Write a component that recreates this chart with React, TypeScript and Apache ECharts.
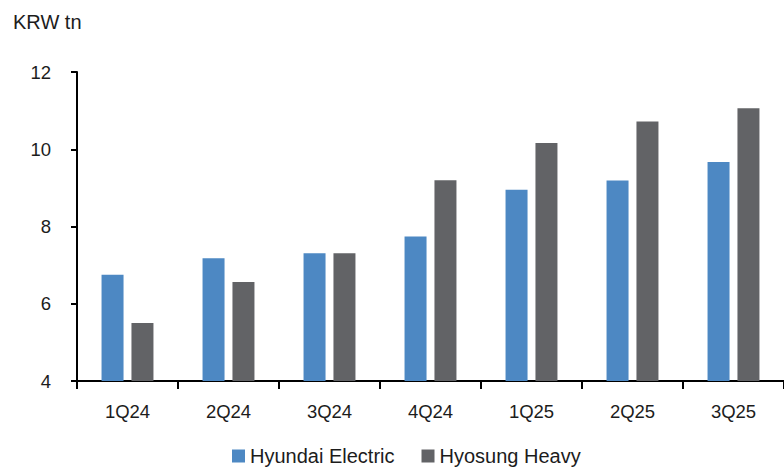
import React, { useEffect, useRef } from "react";
import * as echarts from "echarts";

const categories = ["1Q24", "2Q24", "3Q24", "4Q24", "1Q25", "2Q25", "3Q25"];
const hyundaiElectric = [6.75, 7.18, 7.31, 7.74, 8.95, 9.19, 9.67];
const hyosungHeavy = [5.5, 6.56, 7.31, 9.2, 10.16, 10.72, 11.06];
const unitLabel = "KRW tn";

const FONT = "'Liberation Sans', Arial, sans-serif";
const TEXT = "#1c1c1c";

export default function App() {
  const ref = useRef<HTMLDivElement>(null);
  useEffect(() => {
    if (!ref.current) return;
    const chart = echarts.init(ref.current, null, { renderer: "svg" });
    chart.setOption({
      animation: false,
      backgroundColor: "#ffffff",
      graphic: [
        {
          type: "text",
          left: 13,
          top: 12,
          style: { text: unitLabel, font: `20px ${FONT}`, fill: TEXT },
        },
      ],
      legend: {
        left: 232,
        top: 446,
        padding: 0,
        itemWidth: 13,
        itemHeight: 13,
        itemGap: 27,
        icon: "rect",
        textStyle: { fontFamily: FONT, fontSize: 20, color: TEXT },
        data: ["Hyundai Electric", "Hyosung Heavy"],
      },
      grid: { left: 77, top: 72, width: 710, height: 309, containLabel: false },
      xAxis: {
        type: "category",
        data: categories,
        axisLine: { lineStyle: { color: "#000", width: 2 } },
        axisTick: { show: true, length: 8, lineStyle: { color: "#000", width: 2 }, alignWithLabel: false },
        axisLabel: { fontFamily: FONT, fontSize: 18.5, color: TEXT, margin: 21 },
      },
      yAxis: {
        type: "value",
        min: 4,
        max: 12,
        interval: 2,
        splitLine: { show: false },
        axisLine: { show: true, lineStyle: { color: "#000", width: 2 } },
        axisTick: { show: true, length: 6, lineStyle: { color: "#000", width: 2 } },
        axisLabel: { fontFamily: FONT, fontSize: 18.5, color: TEXT, margin: 26 },
      },
      series: [
        {
          name: "Hyundai Electric",
          type: "bar",
          data: hyundaiElectric,
          barWidth: 22,
          barGap: "36%",
          itemStyle: { color: "#4d88c3" },
        },
        {
          name: "Hyosung Heavy",
          type: "bar",
          data: hyosungHeavy,
          barWidth: 22,
          barGap: "36%",
          itemStyle: { color: "#626366" },
        },
      ],
    });
    return () => chart.dispose();
  }, []);
  return (
    <div
      ref={ref}
      style={{ position: "fixed", left: 0, top: 0, width: 784, height: 471 }}
    />
  );
}
